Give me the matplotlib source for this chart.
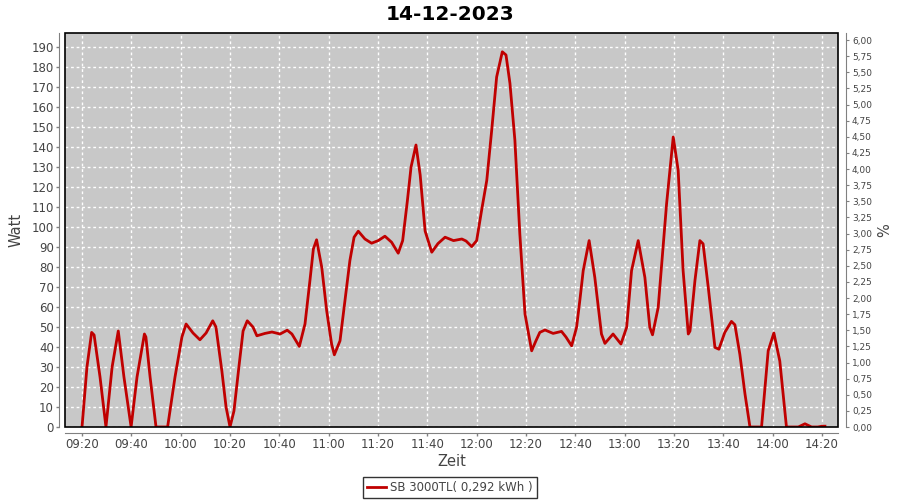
import numpy as np
import matplotlib.pyplot as plt
from matplotlib.ticker import FuncFormatter, MultipleLocator
from matplotlib.patches import Rectangle

# time in minutes after 09:20, power in Watt
t_min = [0, 2.0, 3.9, 4.9, 7.3, 9.7, 12.2, 14.7, 17.0, 19.9, 22.3, 25.3, 25.9,
         27.6, 30.0, 34.7, 37.7, 40.5, 42.2, 45.0, 47.8, 50.3, 53.0, 54.3,
         56.7, 58.4, 60.0, 61.6, 63.6, 65.3, 67.0, 69.3, 70.9, 74.2, 77.0,
         80.3, 83.2, 85.1, 88.1, 90.4, 92.4, 93.8, 95.1, 97.2, 99.2, 101.2,
         102.3, 104.6, 106.6, 108.6, 110.3, 112.0, 114.7, 117.4, 120.1, 122.8,
         125.5, 128.2, 130.0, 131.9, 133.4, 135.4, 137.1, 139.1, 141.8, 144.3,
         147.2, 150.6, 154.0, 155.7, 158.0, 160.0, 162.0, 164.1, 166.1, 168.1,
         170.4, 171.9, 173.5, 175.5, 177.5, 179.6, 182.3, 184.0, 185.6, 187.7,
         191.0, 194.4, 196.2, 198.5, 200.5, 201.9, 203.2, 205.6, 207.9, 210.6,
         212.0, 215.3, 218.5, 220.8, 222.8, 225.5, 228.2, 230.2, 231.3, 233.6,
         237.0, 239.7, 241.7, 243.7, 245.8, 246.5, 248.5, 250.5, 251.8, 253.9,
         256.6, 258.2, 260.6, 263.3, 264.7, 266.7, 268.8, 270.8, 275.5, 278.2,
         280.5, 282.9, 285.6, 290.4, 293.1, 295.8, 298.3, 300.0, 301.2]
watt = [0, 30, 47.3, 46, 25, 0, 30, 48, 25, 0, 25, 46.5, 45,
        25, 0, 0, 25, 45, 51.5, 47, 43.6, 47, 53.1, 50,
        28, 10, 0, 8, 30, 48, 53.1, 50, 45.6, 46.8, 47.5,
        46.5, 48.4, 46.5, 40.3, 51.5, 73.2, 89, 93.6, 79.8, 58.1, 41.4,
        36.1, 43.1, 63.2, 83.2, 94.9, 97.9, 94, 91.9, 93.2, 95.4,
        92.4, 86.9, 93.2, 113, 130, 141, 126, 98, 87.4, 91.7,
        94.9, 93.2, 94, 93, 90.2, 93.2, 108.3, 123.3, 148.4, 175,
        187.6, 186, 171.8, 143.4, 96.6, 56.5, 38.1, 43, 47.3, 48.5,
        46.8, 47.8, 45, 40.6, 49.8, 64, 78.2, 93.2, 74.8, 46.5,
        41.8, 46.5, 41.5, 49.8, 78.2, 93.2, 74.8, 49.8, 46.1, 59.8,
        111.6, 145, 128.3, 78.2, 46.5, 48, 73.2, 93.2, 91.6, 69.8,
        39.8, 38.9, 47.3, 52.8, 51.1, 36.4, 16.4, 0, 0, 38.1,
        47, 33, 0, 0, 1.6, 0, 0, 0.4, 0.4]

series_label = 'SB 3000TL( 0,292 kWh )'
title = '14-12-2023'
start = 9 * 60 + 20

plt.rcParams['font.family'] = ['DejaVu Sans']

fig = plt.figure(figsize=(9, 5), dpi=100)
ax = fig.add_axes([65/900, 73/500, 773/900, 394/500])
ax.set_facecolor('#c8c8c8')

line, = ax.plot(t_min, watt, color='#c00000', linewidth=2)

ax.set_xlim(-6.9, 306.5)
ax.set_ylim(0, 197)
ax.xaxis.set_major_locator(MultipleLocator(20))
ax.yaxis.set_major_locator(MultipleLocator(10))
ax.xaxis.set_major_formatter(FuncFormatter(
    lambda v, p: '%02d:%02d' % divmod(int(round(start + v)), 60)))
ax.grid(True, color='white', linestyle=(0, (2, 2)), linewidth=1)
ax.set_axisbelow(True)

for s in ['top', 'right']:
    ax.spines[s].set_visible(False)
for s in ['left', 'bottom']:
    ax.spines[s].set_position(('outward', 4))
    ax.spines[s].set_color('#808080')
ax.tick_params(axis='both', labelsize=8.5, colors='#444444', length=2,
               width=1, color='#808080', pad=2)
ax.set_xlabel('Zeit', fontsize=10.5, color='#444444', labelpad=2)
ax.set_ylabel('Watt', fontsize=10.5, color='#444444', labelpad=6)

# plot outline
ax.add_patch(Rectangle((0, 0), 1, 1, transform=ax.transAxes, fill=False,
                       edgecolor='black', linewidth=1.2, clip_on=False, zorder=5))

ax2 = ax.twinx()
ax2.set_ylim(0, 6.11)
ax2.yaxis.set_major_locator(MultipleLocator(0.25))
ax2.yaxis.set_major_formatter(FuncFormatter(lambda v, p: ('%.2f' % v).replace('.', ',')))
for s in ['top', 'left', 'bottom']:
    ax2.spines[s].set_visible(False)
ax2.spines['right'].set_position(('outward', 6))
ax2.spines['right'].set_color('#808080')
ax2.tick_params(axis='y', labelsize=6.5, colors='#444444', length=2,
                color='#808080', pad=2)
ax2.set_ylabel('%', fontsize=10.5, color='#444444', labelpad=4)

fig.suptitle(title, fontsize=14.5, fontweight='bold', y=0.972, va='center')

leg = fig.legend([line], [series_label], loc='center', bbox_to_anchor=(0.5, 0.025),
                 fontsize=8.5, frameon=True, fancybox=False, handlelength=1.6,
                 handletextpad=0.4, borderpad=0.3, labelcolor='#444444')
leg.get_frame().set_edgecolor('black')
leg.get_frame().set_linewidth(1)

fig.savefig('out.png', dpi=100)
